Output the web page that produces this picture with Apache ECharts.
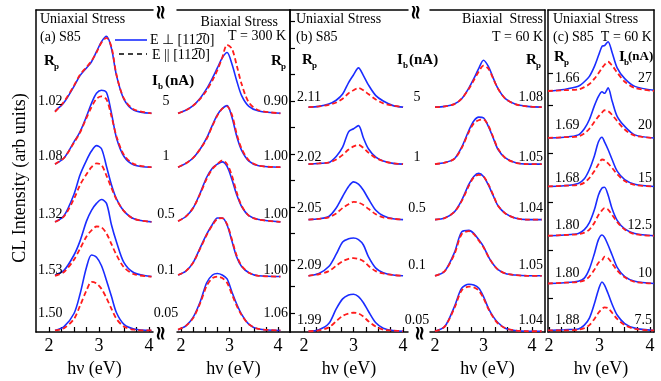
<!DOCTYPE html>
<html><head><meta charset="utf-8">
<script src="https://cdn.jsdelivr.net/npm/echarts@6/dist/echarts.min.js"></script>
<style>html,body{margin:0;padding:0;background:#fff}#c{width:661px;height:381px}</style>
</head><body><div id="c"></div>
<script>
// ---------------- DATA ----------------
// (a) T = 300 K, uniaxial stress
const aUniEnergy = [2.12, 2.3, 2.5, 2.62, 2.75, 2.85, 2.95, 3.05, 3.15, 3.25, 3.35, 3.5, 3.7, 4.05];
const aUniPerp = [
  [0.03,0.14,0.35,0.49,0.59,0.67,0.80,0.93,1.00,0.84,0.49,0.18,0.04,0.00],
  [0.04,0.12,0.33,0.46,0.66,0.83,0.96,1.00,0.97,0.70,0.38,0.14,0.03,0.00],
  [0.00,0.08,0.36,0.61,0.80,0.92,0.99,0.95,0.72,0.48,0.30,0.14,0.04,0.00],
  [0.02,0.08,0.28,0.46,0.72,0.86,0.95,1.00,0.95,0.67,0.45,0.18,0.05,0.00],
  [0.00,0.05,0.22,0.47,0.82,0.98,0.95,0.84,0.65,0.44,0.23,0.08,0.02,0.00]
];
const aUniPar = [
  [0.02,0.15,0.36,0.50,0.60,0.68,0.79,0.92,0.98,0.86,0.50,0.19,0.05,0.00],
  [0.04,0.12,0.32,0.45,0.64,0.78,0.89,0.92,0.88,0.66,0.40,0.16,0.04,0.00],
  [0.00,0.07,0.30,0.48,0.62,0.71,0.76,0.74,0.60,0.44,0.29,0.14,0.04,0.00],
  [0.01,0.06,0.22,0.36,0.52,0.60,0.65,0.64,0.56,0.42,0.28,0.12,0.03,0.00],
  [0.00,0.03,0.15,0.32,0.52,0.63,0.61,0.54,0.42,0.28,0.15,0.05,0.01,0.00]
];
// (a) T = 300 K, biaxial stress
const aBiEnergy = [1.94, 2.1, 2.25, 2.4, 2.53, 2.65, 2.75, 2.85, 2.95, 3.05, 3.15, 3.25, 3.4, 3.6, 4.05];
const aBiPerp = [
  [0.00,0.04,0.10,0.20,0.32,0.46,0.59,0.72,0.79,0.64,0.42,0.23,0.09,0.03,0.00],
  [0.00,0.05,0.12,0.24,0.38,0.55,0.68,0.76,0.80,0.65,0.40,0.22,0.08,0.02,0.00],
  [0.01,0.07,0.18,0.38,0.58,0.70,0.75,0.78,0.72,0.55,0.35,0.20,0.08,0.03,0.00],
  [0.02,0.07,0.18,0.38,0.55,0.68,0.76,0.76,0.67,0.46,0.25,0.13,0.05,0.01,0.00],
  [0.01,0.06,0.17,0.38,0.62,0.72,0.74,0.72,0.67,0.50,0.34,0.21,0.08,0.02,0.00]
];
const aBiPar = [
  [0.00,0.04,0.10,0.19,0.30,0.43,0.56,0.72,0.89,0.84,0.62,0.38,0.14,0.04,0.00],
  [0.00,0.05,0.12,0.24,0.37,0.54,0.67,0.76,0.79,0.68,0.43,0.24,0.09,0.02,0.00],
  [0.01,0.07,0.18,0.37,0.56,0.69,0.75,0.80,0.75,0.60,0.38,0.21,0.08,0.03,0.00],
  [0.02,0.07,0.18,0.37,0.54,0.67,0.75,0.76,0.68,0.48,0.27,0.14,0.05,0.01,0.00],
  [0.01,0.06,0.16,0.36,0.58,0.68,0.70,0.68,0.62,0.47,0.32,0.20,0.08,0.02,0.00]
];
// (b) T = 60 K, uniaxial stress
const bUniEnergy = [2.09, 2.3, 2.5, 2.65, 2.78, 2.9, 3.0, 3.1, 3.2, 3.3, 3.45, 3.6, 3.8, 4.0];
const bUniPerp = [
  [0.00,0.01,0.04,0.09,0.17,0.32,0.42,0.51,0.41,0.29,0.15,0.08,0.02,0.00],
  [0.00,0.01,0.02,0.10,0.22,0.42,0.46,0.50,0.34,0.20,0.09,0.04,0.01,0.00],
  [0.00,0.01,0.04,0.15,0.30,0.43,0.49,0.46,0.38,0.27,0.12,0.05,0.01,0.00],
  [0.00,0.03,0.12,0.28,0.44,0.48,0.49,0.47,0.40,0.25,0.10,0.04,0.01,0.00],
  [0.00,0.02,0.10,0.29,0.42,0.47,0.48,0.45,0.37,0.26,0.11,0.04,0.01,0.00]
];
const bUniPar = [
  [0.00,0.01,0.03,0.06,0.11,0.18,0.22,0.25,0.22,0.17,0.10,0.05,0.02,0.00],
  [0.00,0.01,0.02,0.06,0.12,0.19,0.23,0.25,0.21,0.15,0.08,0.04,0.01,0.00],
  [0.00,0.01,0.03,0.08,0.15,0.20,0.23,0.22,0.19,0.14,0.07,0.03,0.01,0.00],
  [0.00,0.02,0.06,0.13,0.19,0.22,0.23,0.22,0.19,0.13,0.06,0.03,0.01,0.00],
  [0.00,0.01,0.05,0.13,0.20,0.23,0.24,0.23,0.19,0.13,0.06,0.02,0.01,0.00]
];
// (b) T = 60 K, biaxial stress
const bBiEnergy = [2.0, 2.2, 2.4, 2.55, 2.7, 2.8, 2.9, 3.0, 3.1, 3.2, 3.3, 3.45, 3.65, 3.9, 4.2];
const bBiPerp = [
  [0.00,0.01,0.04,0.11,0.25,0.37,0.50,0.61,0.53,0.38,0.24,0.11,0.04,0.01,0.00],
  [0.00,0.02,0.07,0.22,0.44,0.56,0.61,0.60,0.49,0.34,0.19,0.08,0.02,0.00,0.00],
  [0.00,0.02,0.10,0.25,0.46,0.56,0.60,0.56,0.45,0.31,0.18,0.08,0.02,0.00,0.00],
  [0.00,0.06,0.30,0.57,0.59,0.55,0.47,0.38,0.25,0.15,0.08,0.03,0.01,0.00,0.00],
  [0.00,0.06,0.32,0.56,0.61,0.60,0.56,0.45,0.30,0.19,0.11,0.04,0.01,0.00,0.00]
];
const bBiPar = [
  [0.00,0.01,0.04,0.11,0.24,0.35,0.46,0.54,0.50,0.37,0.24,0.11,0.04,0.01,0.00],
  [0.00,0.02,0.07,0.21,0.42,0.53,0.57,0.58,0.50,0.35,0.20,0.08,0.02,0.00,0.00],
  [0.00,0.02,0.10,0.24,0.44,0.55,0.58,0.56,0.46,0.32,0.18,0.08,0.02,0.00,0.00],
  [0.00,0.06,0.28,0.54,0.58,0.54,0.46,0.37,0.25,0.15,0.08,0.03,0.01,0.00,0.00],
  [0.00,0.06,0.30,0.53,0.58,0.57,0.53,0.43,0.29,0.18,0.10,0.04,0.01,0.00,0.00]
];
// (c) T = 60 K, uniaxial stress, beam-current series
const cEnergy = [1.98, 2.3, 2.58, 2.7, 2.8, 2.9, 2.98, 3.05, 3.1, 3.17, 3.25, 3.35, 3.5, 3.7, 4.08];
const cPerp = [
  [0.00,0.02,0.06,0.12,0.19,0.32,0.46,0.58,0.59,0.64,0.50,0.30,0.16,0.06,0.01],
  [0.00,0.01,0.04,0.12,0.24,0.42,0.54,0.60,0.58,0.65,0.48,0.28,0.15,0.04,0.00],
  [0.00,0.01,0.04,0.10,0.22,0.40,0.58,0.64,0.58,0.48,0.35,0.20,0.09,0.03,0.00],
  [0.00,0.01,0.03,0.08,0.17,0.34,0.53,0.62,0.63,0.53,0.35,0.20,0.09,0.03,0.00],
  [0.00,0.01,0.03,0.07,0.19,0.39,0.57,0.63,0.60,0.50,0.37,0.21,0.09,0.03,0.00],
  [0.00,0.01,0.02,0.07,0.16,0.35,0.53,0.63,0.59,0.48,0.34,0.20,0.09,0.03,0.00]
];
const cPar = [
  [0.00,0.01,0.02,0.05,0.09,0.16,0.23,0.30,0.34,0.38,0.33,0.24,0.12,0.04,0.00],
  [0.00,0.01,0.02,0.06,0.12,0.21,0.28,0.33,0.36,0.35,0.30,0.22,0.11,0.03,0.00],
  [0.00,0.01,0.02,0.05,0.11,0.20,0.29,0.35,0.34,0.30,0.24,0.16,0.07,0.02,0.00],
  [0.00,0.01,0.02,0.04,0.08,0.17,0.27,0.33,0.36,0.34,0.27,0.18,0.08,0.02,0.00],
  [0.00,0.01,0.02,0.04,0.09,0.18,0.27,0.30,0.35,0.33,0.26,0.17,0.08,0.02,0.00],
  [0.00,0.00,0.01,0.03,0.07,0.15,0.23,0.28,0.30,0.29,0.23,0.15,0.07,0.02,0.00]
];
// labels
const aUniRp = ['1.02','1.08','1.32','1.53','1.50'];
const aBiRp  = ['0.90','1.00','1.00','1.00','1.06'];
const aIb    = ['5','1','0.5','0.1','0.05'];
const bUniRp = ['2.11','2.02','2.05','2.09','1.99'];
const bBiRp  = ['1.08','1.05','1.04','1.05','1.04'];
const bIb    = ['5','1','0.5','0.1','0.05'];
const cRp    = ['1.66','1.69','1.68','1.80','1.80','1.88'];
const cIb    = ['27','20','15','12.5','10','7.5'];
const xTickLabels = [2, 3, 4];

// ---------------- LAYOUT / STYLE ----------------
const FONT = '"Liberation Serif", "Times New Roman", serif';
const BLUE = '#1a2cff', RED = '#ff1c1c';
const TOP = 10, H = 322, YMAX = 322 / 77;
const aOffsets = [2.84, 2.14, 1.43, 0.72, 0.02];
const bOffsets = [2.92, 2.18, 1.46, 0.73, 0.01];
const cOffsets = [3.13, 2.52, 1.89, 1.25, 0.63, 0.02];
const xMinorTicks = [2, 2.25, 2.5, 2.75, 3, 3.25, 3.5, 3.75, 4];
const bYTicks = Array.from({length: 12}, (_, k) => (19 + 26.5 * k) / 77);
const cYTicks = [34, 82, 130, 179, 227, 259].map(v => v / 77);

const cols = [
  {left: 36,  width: 117, xmin: 1.74,  xmax: 4.08,  E: aUniEnergy, perp: aUniPerp, par: aUniPar, off: aOffsets, lineL: true,  lineR: false, yTicks: null},
  {left: 177, width: 113, xmin: 1.918, xmax: 4.247, E: aBiEnergy,  perp: aBiPerp,  par: aBiPar,  off: aOffsets, lineL: false, lineR: true,  yTicks: null},
  {left: 290, width: 118, xmin: 1.717, xmax: 4.10,  E: bUniEnergy, perp: bUniPerp, par: bUniPar, off: bOffsets, lineL: true,  lineR: false, yTicks: bYTicks},
  {left: 430, width: 115, xmin: 1.897, xmax: 4.268, E: bBiEnergy,  perp: bBiPerp,  par: bBiPar,  off: bOffsets, lineL: false, lineR: true,  yTicks: null},
  {left: 548, width: 106, xmin: 1.98,  xmax: 4.08,  E: cEnergy,    perp: cPerp,    par: cPar,    off: cOffsets, lineL: true,  lineR: true,  yTicks: cYTicks}
];

const axisLineStyle = {color: '#000', width: 1.5};
const grid = [], xAxis = [], yAxis = [], series = [];
cols.forEach((c, i) => {
  grid.push({left: c.left, top: TOP, width: c.width, height: H, containLabel: false, outerBoundsMode: 'none'});
  xAxis.push({
    type: 'value', gridIndex: i, position: 'bottom', min: c.xmin, max: c.xmax,
    axisLine: {show: true, onZero: false, lineStyle: axisLineStyle},
    axisTick: {show: true, inside: true, length: 5, customValues: xMinorTicks, lineStyle: {color: '#000', width: 1.2}},
    axisLabel: {show: true, customValues: xTickLabels, margin: 5, fontSize: 18, fontFamily: FONT, color: '#000', formatter: v => String(v)},
    splitLine: {show: false},
    name: 'hν (eV)', nameLocation: 'middle', nameGap: 27,
    nameTextStyle: {fontSize: 18, fontFamily: FONT, color: '#000'}
  });
  xAxis.push({
    type: 'value', gridIndex: i, position: 'top', min: c.xmin, max: c.xmax,
    axisLine: {show: true, onZero: false, lineStyle: axisLineStyle},
    axisTick: {show: false}, axisLabel: {show: false}, splitLine: {show: false}
  });
  yAxis.push({
    type: 'value', gridIndex: i, position: 'left', min: 0, max: YMAX,
    axisLine: {show: c.lineL, onZero: false, lineStyle: axisLineStyle},
    axisTick: c.yTicks ? {show: true, inside: true, length: 5, customValues: c.yTicks, lineStyle: {color: '#000', width: 1.2}} : {show: false},
    axisLabel: {show: false}, splitLine: {show: false}
  });
  yAxis.push({
    type: 'value', gridIndex: i, position: 'right', min: 0, max: YMAX,
    axisLine: {show: c.lineR, onZero: false, lineStyle: axisLineStyle},
    axisTick: {show: false}, axisLabel: {show: false}, splitLine: {show: false}
  });
  c.perp.forEach((vals, k) => {
    series.push({
      type: 'line', xAxisIndex: 2 * i, yAxisIndex: 2 * i, symbol: 'none', smooth: 0.3, silent: true,
      lineStyle: {color: BLUE, width: 1.6},
      data: c.E.map((e, j) => [e, c.off[k] + vals[j]])
    });
  });
  c.par.forEach((vals, k) => {
    series.push({
      type: 'line', xAxisIndex: 2 * i, yAxisIndex: 2 * i, symbol: 'none', smooth: 0.3, silent: true,
      lineStyle: {color: RED, width: 1.8, type: [5, 3]},
      data: c.E.map((e, j) => [e, c.off[k] + vals[j]])
    });
  });
});

// ---------------- TEXT ----------------
const g = [];
function T(x, y, text, o = {}) {
  const size = o.size || 14;
  g.push({
    type: 'text', x, y, rotation: o.rot || 0, z: 20, silent: true,
    style: {
      text, fill: '#000',
      font: (o.bold ? 'bold ' : '') + size + 'px ' + FONT,
      textAlign: o.align || 'left', align: o.align || 'left',
      textVerticalAlign: 'middle', verticalAlign: 'middle'
    }
  });
}
function sub(x, y, main, s, dx) {
  T(x, y, main, {bold: true, size: 15});
  T(x + dx, y + 6, s, {bold: true, size: 9});
}
// y axis title
T(20, 178, 'CL Intensity (arb units)', {size: 18, rot: Math.PI / 2, align: 'center'});

// panel (a)
T(40, 19, 'Uniaxial Stress');
T(40, 37, '(a) S85');
sub(44, 61, 'R', 'p', 10);
T(278, 22, 'Biaxial Stress', {align: 'right'});
T(286, 36, 'T = 300 K', {align: 'right'});
sub(271, 61, 'R', 'p', 10);
sub(152, 81, 'I', 'b', 6);
T(165, 81, '(nA)', {bold: true, size: 15});
const aRows = [101, 156, 214, 270, 313];
aRows.forEach((y, k) => {
  T(38, y, aUniRp[k]);
  T(166, y, aIb[k], {align: 'center'});
  T(288, y, aBiRp[k], {align: 'right'});
});
// legend
g.push({type: 'line', z: 20, silent: true, shape: {x1: 115, y1: 40, x2: 147, y2: 40}, style: {stroke: BLUE, lineWidth: 1.6}});
g.push({type: 'line', z: 20, silent: true, shape: {x1: 119, y1: 54, x2: 147, y2: 54}, style: {stroke: '#000', lineWidth: 1.4, lineDash: [5, 4]}});
T(150, 40, 'E ⊥ [112\u03050]');
T(152, 55, 'E || [112\u03050]');

// panel (b)
T(296, 19, 'Uniaxial Stress');
T(296, 37, '(b) S85');
sub(302, 60, 'R', 'p', 10);
sub(397, 60, 'I', 'b', 6);
T(409, 60, '(nA)', {bold: true, size: 15});
T(543, 19, 'Biaxial  Stress', {align: 'right'});
T(543, 37, 'T = 60 K', {align: 'right'});
sub(526, 60, 'R', 'p', 10);
const bRows = [97, 157, 208, 265, 320];
bRows.forEach((y, k) => {
  T(297, y, bUniRp[k]);
  T(417, y, bIb[k], {align: 'center'});
  T(543, y, bBiRp[k], {align: 'right'});
});

// panel (c)
T(553, 19, 'Uniaxial Stress');
T(553, 37, '(c) S85  T = 60 K');
sub(554, 57, 'R', 'p', 10);
sub(619, 57, 'I', 'b', 5);
T(628, 57, '(nA)', {bold: true, size: 13});
const cRows = [78, 125, 178, 225, 273, 320];
cRows.forEach((y, k) => {
  T(555, y, cRp[k]);
  T(652, y, cIb[k], {align: 'right'});
});

// axis break marks
[[162, 12], [162, 333], [417, 12], [421, 333]].forEach(([x, y]) => {
  g.push({type: 'text', x, y, rotation: Math.PI / 2, z: 25, silent: true,
    style: {text: '≈', fill: '#000', font: 'bold 20px "DejaVu Sans", sans-serif',
      textAlign: 'center', align: 'center', textVerticalAlign: 'middle', verticalAlign: 'middle'}});
});

const chart = echarts.init(document.getElementById('c'), null, {renderer: 'canvas'});
chart.setOption({
  animation: false, backgroundColor: '#fff',
  grid, xAxis, yAxis, series, graphic: {elements: g}
});
</script></body></html>
